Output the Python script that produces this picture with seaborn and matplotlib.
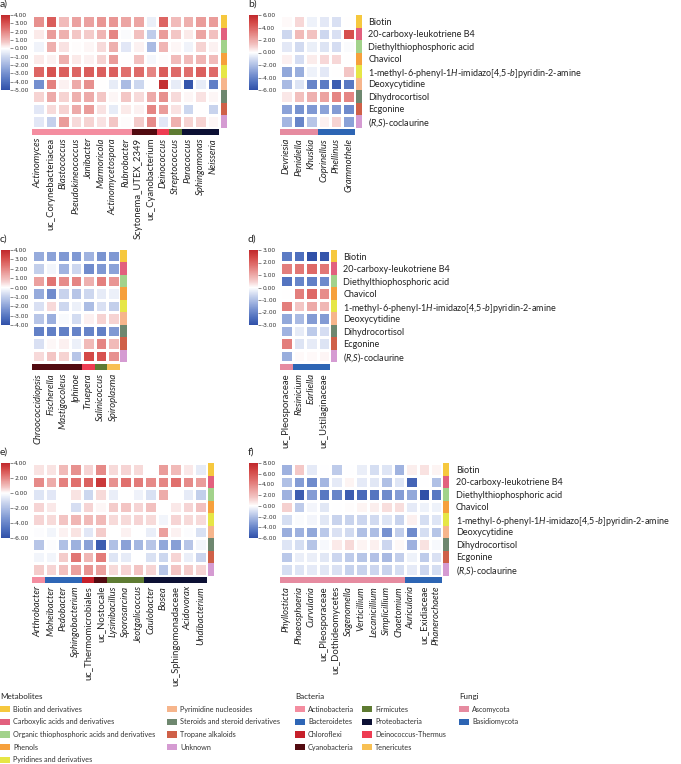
import matplotlib
matplotlib.use('Agg')
import matplotlib.pyplot as plt
import seaborn as sns
import numpy as np
import pandas as pd
from matplotlib.colors import LinearSegmentedColormap, ListedColormap
from matplotlib.patches import Patch

sns.set_style('white')
plt.rcParams['font.family'] = ['Lato', 'DejaVu Sans']
plt.rcParams['mathtext.fontset'] = 'custom'
plt.rcParams['mathtext.rm'] = 'Lato'
plt.rcParams['mathtext.it'] = 'Lato:italic'

W, H = 681, 764

# metabolites (rows) and their classes
metabolites = ['Biotin', '20-carboxy-leukotriene B4', 'Diethylthiophosphoric acid', 'Chavicol',
               '1-methyl-6-phenyl-1$\\mathit{H}$-imidazo[4,5-$\\mathit{b}$]pyridin-2-amine',
               'Deoxycytidine', 'Dihydrocortisol', 'Ecgonine',
               '($\\mathit{R}$,$\\mathit{S}$)-coclaurine']
met_classes = ['Biotin and derivatives', 'Carboxylic acids and derivatives',
               'Organic thiophosphoric acids and derivatives', 'Phenols',
               'Pyridines and derivatives', 'Pyrimidine nucleosides',
               'Steroids and steroid derivatives', 'Tropane alkaloids', 'Unknown']
met_colors = ['#F6C83E', '#E2607E', '#A2D28B', '#F6A03C', '#E6E646',
              '#F6B58C', '#6E876F', '#CF6048', '#D59BD2']

bacteria_phyla = ['Actinobacteria', 'Bacteroidetes', 'Chloroflexi', 'Cyanobacteria',
                  'Firmicutes', 'Proteobacteria', 'Deinococcus-Thermus', 'Tenericutes']
bacteria_colors = ['#F48DA0', '#2E66B6', '#C6202A', '#520A10',
                   '#5E7B32', '#0C1034', '#EE3C52', '#F8C053']
fungi_phyla = ['Ascomycota', 'Basidiomycota']
fungi_colors = ['#E68BA0', '#2D65B4']

# panel a
a_cols = ['Actinomyces', 'uc_Corynebacteriacea', 'Blastococcus', 'Pseudokineococcus', 'Janibacter',
          'Marmoricola', 'Actinomycetospora', 'Rubrobacter', 'Scytonema_UTEX_2349', 'uc_Cyanobacterium',
          'Deinococcus', 'Streptococcus', 'Paracoccus', 'Sphingomonas', 'Neisseria']
a_phyla = ['Actinobacteria'] * 8 + ['Cyanobacteria'] * 2 + ['Deinococcus-Thermus', 'Firmicutes'] + ['Proteobacteria'] * 3
a_values = [
    [1.8, 2.8, 1.0, 1.5, 1.5, 1.7, 1.7, 1.4, 1.4, -0.4, 2.6, 1.0, 1.2, 1.6, 1.6],
    [0.3, 1.6, 1.2, 0.8, 0.7, 1.1, 2.0, -0.1, 0.9, -1.3, 1.6, 0.8, 0.3, 1.4, 0.9],
    [-0.3, 1.2, 0.4, 0.05, 0.1, 0.5, 1.2, -0.6, 0.2, -1.8, 1.1, 0.1, -0.3, 0.6, 0.2],
    [0.3, 0.2, 1.2, 0.3, 0.2, 0.6, 1.6, 0.0, 0.9, -0.2, 0.05, 1.0, 1.0, 1.1, 1.0],
    [2.6, 3.0, 2.7, 2.6, 2.8, 2.7, 2.7, 2.4, 2.5, 2.0, 2.8, 2.5, 2.4, 2.7, 2.5],
    [-3.0, 2.1, 0.2, 1.3, 1.8, 0.0, -0.5, -1.8, -1.0, 0.0, 3.8, -0.5, -4.8, -0.5, -3.5],
    [0.6, 1.3, 0.6, 1.2, 1.3, 0.8, 0.1, 0.8, 0.5, 1.3, 1.8, 0.5, 0.1, 0.4, 0.1],
    [-0.6, 0.5, 0.6, 1.3, 1.6, 0.4, -0.5, 0.3, 0.2, 2.0, 1.6, 0.4, -1.0, 0.0, -1.1],
    [-0.6, -1.2, 1.6, 0.5, 0.6, 0.4, 0.8, 0.05, 0.7, 1.9, -0.6, 1.2, 0.6, 0.6, 0.1],
]

# panel b
b_cols = ['Devriesia', 'Penidiella', 'Khuskia', 'Coprinellus', 'Phellinus', 'Grammothele']
b_phyla = ['Ascomycota'] * 3 + ['Basidiomycota'] * 3
b_values = [
    [0.1, 0.8, -0.4, -0.7, -0.9, 0.0],
    [-1.2, 1.5, 1.3, -1.2, -0.9, 4.6],
    [-0.7, -1.1, -0.5, -0.8, -1.0, -0.1],
    [0.3, -1.0, 0.4, 0.8, 0.8, 0.0],
    [-2.8, -2.6, -0.4, -0.7, 0.0, 1.2],
    [-2.2, -0.8, -4.0, -4.4, -5.5, -4.5],
    [0.5, 1.4, 1.8, 2.2, 3.0, 3.0],
    [-3.0, -3.5, -3.3, -3.0, -3.2, -3.8],
    [-2.3, -4.0, -1.8, 0.3, 0.9, -3.0],
]

# panel c
c_cols = ['Chroococcidiopsis', 'Fischerella', 'Mastigocoleus', 'Iphinoe', 'Truepera', 'Salinicoccus', 'Spiroplasma']
c_phyla = ['Cyanobacteria'] * 4 + ['Deinococcus-Thermus', 'Firmicutes', 'Tenericutes']
c_values = [
    [-1.8, -2.0, -2.2, -2.2, -1.6, -2.3, -2.2],
    [-1.0, -0.2, -1.6, -0.8, -2.5, -2.2, -2.0],
    [1.5, 2.3, 1.9, 2.0, 1.2, 2.1, 1.7],
    [-1.8, -2.5, -0.9, -1.2, -0.8, -0.4, -0.3],
    [-0.6, 0.5, -0.8, -0.3, -1.4, -0.6, -1.0],
    [-1.2, -1.7, -0.1, -0.7, 0.2, 0.6, 0.6],
    [-2.8, -2.8, -2.8, -2.7, -2.7, -2.8, -2.2],
    [-0.6, 0.1, 0.2, -0.3, 1.0, 2.0, 1.0],
    [0.5, 0.8, 0.6, -1.2, 3.2, 3.0, 1.8],
]

# panel d
d_cols = ['uc_Pleosporaceae', 'Resinicium', 'Earliella', 'uc_Ustilaginaceae']
d_phyla = ['Ascomycota'] + ['Basidiomycota'] * 3
d_values = [
    [-2.2, -2.4, -3.0, -2.9],
    [1.6, 1.7, 1.9, 1.7],
    [-2.3, -2.0, -2.1, -1.9],
    [0.0, 1.6, 1.9, 1.4],
    [1.6, 0.6, 1.0, 0.8],
    [-1.4, -1.1, -1.6, -1.6],
    [-1.2, -0.3, -0.8, -0.5],
    [1.6, -0.4, -0.3, -0.4],
    [-1.3, 0.05, 0.05, 0.1],
]

# panel e
e_cols = ['Arthrobacter', 'Moheibacter', 'Pedobacter', 'Sphingobacterium', 'uc_Thermomicrobiales',
          'uc_Nostocale', 'Lysinibacillus', 'Sporosarcina', 'Jeotgalicoccus', 'Caulobacter', 'Bosea',
          'uc_Sphingomonadaceae', 'Acidovorax', 'Undibacterium']
e_phyla = (['Actinobacteria'] + ['Bacteroidetes'] * 3 + ['Chloroflexi', 'Cyanobacteria']
           + ['Firmicutes'] * 3 + ['Proteobacteria'] * 5)
e_values = [
    [0.4, 0.4, 1.0, 1.8, 0.6, 1.9, 0.5, 0.6, 0.5, 0.0, 1.6, 1.0, 0.3, -0.6],
    [1.9, 1.3, 2.1, 2.4, 2.7, 3.6, 1.8, 2.4, 2.2, 1.9, 2.0, 2.4, 1.9, 1.6],
    [-0.8, -0.7, 0.0, 0.4, -1.2, 0.5, -0.5, 0.0, -0.4, -0.9, 1.3, 0.0, -0.6, -1.5],
    [0.6, 0.3, 0.0, -1.0, 0.6, 0.1, 0.7, 0.8, 0.6, 0.9, 0.0, 0.3, 0.6, 0.9],
    [0.6, 0.5, 0.8, 1.1, 1.0, 1.0, 0.5, 0.5, 0.6, 0.5, -0.3, 0.6, 0.5, 0.5],
    [-0.1, -0.3, 0.2, 0.4, -0.7, 0.7, 0.0, 0.2, 0.0, -0.5, 1.5, 0.2, -0.1, -0.9],
    [-1.8, -0.1, -2.0, -2.5, -3.0, -5.5, -2.0, -3.0, -2.3, -1.8, -2.8, -3.1, -1.8, -0.3],
    [-0.3, -0.3, 0.7, 2.3, 1.1, 2.2, -0.8, -0.6, 0.0, -0.9, -1.2, 0.6, -0.5, -1.3],
    [0.7, 0.6, 0.9, 1.5, 1.7, 1.5, 0.5, 0.6, 0.8, 0.6, -1.8, 0.8, 0.7, 0.6],
]

# panel f
f_cols = ['Phyllosticta', 'Phaeosphaeria', 'Curvularia', 'uc_Pleosporaceae', 'uc_Dothideomycetes',
          'Sagenomella', 'Verticillium', 'Lecanicillium', 'Simplicillium', 'Chaetomium',
          'Auricularia', 'uc_Exidiaceae', 'Phanerochaete']
f_phyla = ['Ascomycota'] * 10 + ['Basidiomycota'] * 3
f_values = [
    [-2.5, 1.5, -0.6, 0.0, -1.6, 0.0, -0.5, -1.0, -0.8, -2.4, 0.5, 0.8, 0.3],
    [-2.0, -3.2, -3.8, -2.3, -0.6, 0.3, -0.6, -0.7, -2.0, -0.8, -5.2, 0.0, -2.0],
    [-2.5, -5.5, -3.2, -4.5, -4.0, -5.5, -5.0, -4.6, -3.8, -3.2, -2.8, -6.0, -4.5],
    [1.3, -1.6, -0.3, -0.7, 0.0, 0.1, 0.3, 0.5, 0.9, 0.9, -0.6, -0.4, -0.4],
    [-1.0, -0.1, -0.3, -0.7, -1.3, -1.3, -1.2, -1.1, -0.8, -1.3, 0.4, -1.0, -0.8],
    [-2.6, -2.5, -2.8, -1.7, -0.9, -1.1, -2.0, -2.1, -3.5, -1.5, -3.8, -1.0, -1.8],
    [-0.8, -1.0, -1.8, -0.2, 0.6, 1.0, 0.3, 0.4, -1.2, 0.2, -2.5, 0.8, -0.2],
    [-1.7, -0.5, -0.5, -0.7, -1.2, -1.6, -1.8, -1.9, -2.2, -1.5, -0.4, -1.6, -0.9],
    [-1.0, -0.8, -0.6, -0.7, -0.9, -1.4, -1.3, -1.2, -1.3, -1.0, -0.6, -1.2, -1.0],
]

blue_side = ['#3050A8', '#4F70BE', '#7590CF', '#A1B4E0', '#CDD7EF', '#FFFFFF']
red_side = ['#FFFFFF', '#F3C5C4', '#EA9C9A', '#E0706E', '#D44A48', '#C0282C']
met_cmap = ListedColormap(met_colors)
bac_cmap = ListedColormap(bacteria_colors)
fun_cmap = ListedColormap(fungi_colors)


def make_cmap(vmin, vmax):
    # white sits at zero, each side runs to full colour at its own end
    p0 = -vmin / (vmax - vmin)
    stops = [(p0 * i / 5, c) for i, c in enumerate(blue_side)]
    stops += [(p0 + (1 - p0) * i / 5, c) for i, c in enumerate(red_side)][1:]
    return LinearSegmentedColormap.from_list('div', stops)


fig = plt.figure(figsize=(W / 100, H / 100), dpi=100)


def box(x, y, w, h):
    return [x / W, 1 - (y + h) / H, w / W, h / H]


def panel(tag, values, cols, phyla, phyla_names, phyla_cmap, vmin, vmax, step, x0, y0, show_rows):
    cell = 12.5
    ncol = len(cols)
    hw, hh = cell * ncol, cell * 9
    hx = x0 + 32
    ax = fig.add_axes(box(hx, y0, hw, hh))
    cax = fig.add_axes(box(x0 + 1, y0, 9, 75))
    df = pd.DataFrame(values, index=met_classes, columns=cols)
    sns.heatmap(df, ax=ax, cmap=make_cmap(vmin, vmax), vmin=vmin, vmax=vmax,
                linewidths=1, linecolor='white', cbar_ax=cax,
                cbar_kws={'ticks': np.arange(vmax, vmin - 0.01, -step), 'format': '%.2f'},
                xticklabels=False, yticklabels=False)
    ax.set_xlabel('')
    ax.set_ylabel('')
    cax.tick_params(labelsize=4.3, length=2, width=0.4, pad=1, colors='#333333')
    for t in cax.get_yticklabels():
        t.set_family('DejaVu Sans')

    # metabolite class strip
    rax = fig.add_axes(box(hx + hw + 1, y0, 6, hh))
    codes = np.arange(9).reshape(-1, 1)
    sns.heatmap(codes, ax=rax, cmap=met_cmap, vmin=-0.5, vmax=8.5, cbar=False,
                xticklabels=False, yticklabels=metabolites if show_rows else False)
    if show_rows:
        rax.yaxis.tick_right()
        rax.tick_params(axis='y', length=0, pad=4.5, labelsize=6.5, labelcolor='#222222')
        for t in rax.get_yticklabels():
            t.set_rotation(0)

    # phylum strip with taxon names
    pax = fig.add_axes(box(hx, y0 + hh + 1, hw, 6))
    pcodes = np.array([[phyla_names.index(p) for p in phyla]])
    sns.heatmap(pcodes, ax=pax, cmap=phyla_cmap, vmin=-0.5, vmax=len(phyla_names) - 0.5,
                cbar=False, xticklabels=cols, yticklabels=False)
    pax.tick_params(axis='x', length=0, pad=2.5, labelsize=6.8, labelcolor='#222222')
    for t, name in zip(pax.get_xticklabels(), cols):
        t.set_rotation(90)
        if not name.startswith('uc_') and '_' not in name:
            t.set_style('italic')

    fig.text(x0 / W, 1 - (y0 - 11) / H, tag, fontsize=7.5, va='center', ha='left', color='#222222')


panel('a)', a_values, a_cols, a_phyla, bacteria_phyla, bac_cmap, -5, 4, 1, 0, 15, False)
panel('b)', b_values, b_cols, b_phyla, fungi_phyla, fun_cmap, -6, 6, 2, 248, 15, True)
panel('c)', c_values, c_cols, c_phyla, bacteria_phyla, bac_cmap, -4, 4, 1, 0, 250, False)
panel('d)', d_values, d_cols, d_phyla, fungi_phyla, fun_cmap, -3, 3, 1, 248, 250, True)
panel('e)', e_values, e_cols, e_phyla, bacteria_phyla, bac_cmap, -6, 4, 2, 0, 463, False)
panel('f)', f_values, f_cols, f_phyla, fungi_phyla, fun_cmap, -6, 8, 2, 248, 463, True)


def add_legend(labels, colors, x, y, title):
    handles = [Patch(facecolor=c, edgecolor='none', label=l) for l, c in zip(labels, colors)]
    leg = fig.legend(handles=handles, loc='upper left', bbox_to_anchor=(x / W, 1 - y / H),
                     frameon=False, title=title, alignment='left', fontsize=5.2,
                     title_fontsize=5.8, handlelength=1.4, handleheight=0.95, handletextpad=0.4,
                     labelspacing=0.78, borderpad=0, borderaxespad=0)
    for t in leg.get_texts():
        t.set_color('#333333')
    leg.get_title().set_color('#222222')


add_legend(met_classes[:5], met_colors[:5], 0, 693, 'Metabolites')
add_legend(met_classes[5:], met_colors[5:], 167, 693, ' ')
add_legend(bacteria_phyla[:4], bacteria_colors[:4], 295, 693, 'Bacteria')
add_legend(bacteria_phyla[4:], bacteria_colors[4:], 362, 693, ' ')
add_legend(fungi_phyla, fungi_colors, 459, 693, 'Fungi')

fig.savefig('out.png', dpi=100)
